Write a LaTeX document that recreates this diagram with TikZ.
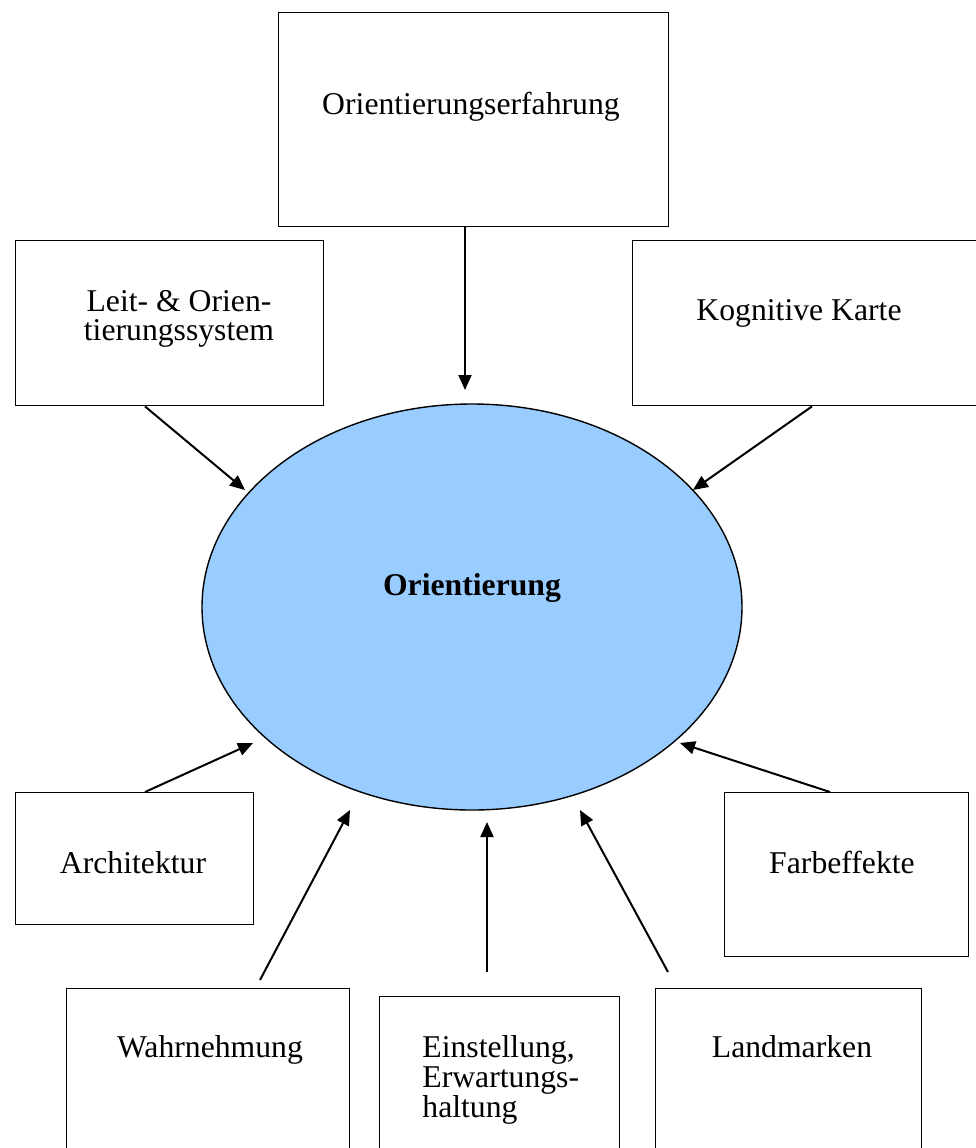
\documentclass[tikz,border=0pt]{standalone}
\usepackage{fontspec}
\setmainfont{Liberation Serif}
\usetikzlibrary{shapes.geometric,arrows.meta}
\definecolor{ellblue}{HTML}{99CCFF}
\begin{document}
\begin{tikzpicture}[x=0.5pt,y=-0.5pt,
  box/.style={draw=black,line width=0.7pt,inner sep=0pt,anchor=north west},
  lbl/.style={font=\fontsize{15.85}{14.5}\selectfont,inner sep=0pt,anchor=base},
  arr/.style={-{Triangle[length=7.5pt,width=6.5pt]},line width=1pt}]
\useasboundingbox (0,0) rectangle (976,1148);
% boxes
\node[box,minimum width=195pt,minimum height=107pt] (erf) at (278,12) {};
\node[box,minimum width=154pt,minimum height=82.5pt] (leit) at (15,240) {};
\node[box,minimum width=172pt,minimum height=82.5pt] (kog) at (632,240) {};
\node[box,minimum width=119pt,minimum height=66pt] (arch) at (15,792) {};
\node[box,minimum width=122pt,minimum height=82pt] (farb) at (724,792) {};
\node[box,minimum width=141.5pt,minimum height=85pt] (wahr) at (66,988) {};
\node[box,minimum width=120pt,minimum height=85pt] (einst) at (379,996) {};
\node[box,minimum width=133pt,minimum height=85pt] (land) at (655,988) {};
% ellipse
\node[ellipse,draw=black,line width=0.7pt,fill=ellblue,minimum width=270pt,minimum height=203pt,inner sep=0pt] (ori) at (472,607) {};
% texts
\node[lbl] (terf) at (471,114) {Orientierungserfahrung};
\node[lbl,align=center] (tleit) at (179,340) {Leit- \& Orien-\\tierungssystem};
\node[lbl] (tkog) at (799,320) {Kognitive Karte};
\node[lbl,font=\fontsize{15.85}{14.5}\selectfont\bfseries] (tori) at (472,595) {Orientierung};
\node[lbl] (tarch) at (133,873) {Architektur};
\node[lbl] (tfarb) at (842,873) {Farbeffekte};
\node[lbl] (twahr) at (210,1057) {Wahrnehmung};
\node[lbl,font=\fontsize{15.85}{15}\selectfont,align=left,anchor=base west] (teinst) at (422,1117) {Einstellung,\\Erwartungs-\\haltung};
\node[lbl] (tland) at (792,1057) {Landmarken};
% arrow end coordinates
\coordinate (e1) at (465,390);
\coordinate (e2) at (245,490);
\coordinate (e3) at (693,490);
\coordinate (e4) at (253,743);
\coordinate (e5) at (680,743);
\coordinate (e6) at (350,810);
\coordinate (e7) at (487,822);
\coordinate (e8) at (580,810);
\coordinate (s6) at (260,980);
\coordinate (s7) at (487,972);
\coordinate (s8) at (668,972);
% arrows
\draw[arr] (erf.south -| e1) -- (e1);
\draw[arr] (leit.south west) ++(130,0) coordinate (s2) -- (e2);
\draw[arr] (kog.south west) ++(180,0) coordinate (s3) -- (e3);
\draw[arr] (arch.north west) ++(130,0) coordinate (s4) -- (e4);
\draw[arr] (farb.north west) ++(106,0) coordinate (s5) -- (e5);
\draw[arr] (s6) -- (e6);
\draw[arr] (s7) -- (e7);
\draw[arr] (s8) -- (e8);
\end{tikzpicture}
\end{document}
